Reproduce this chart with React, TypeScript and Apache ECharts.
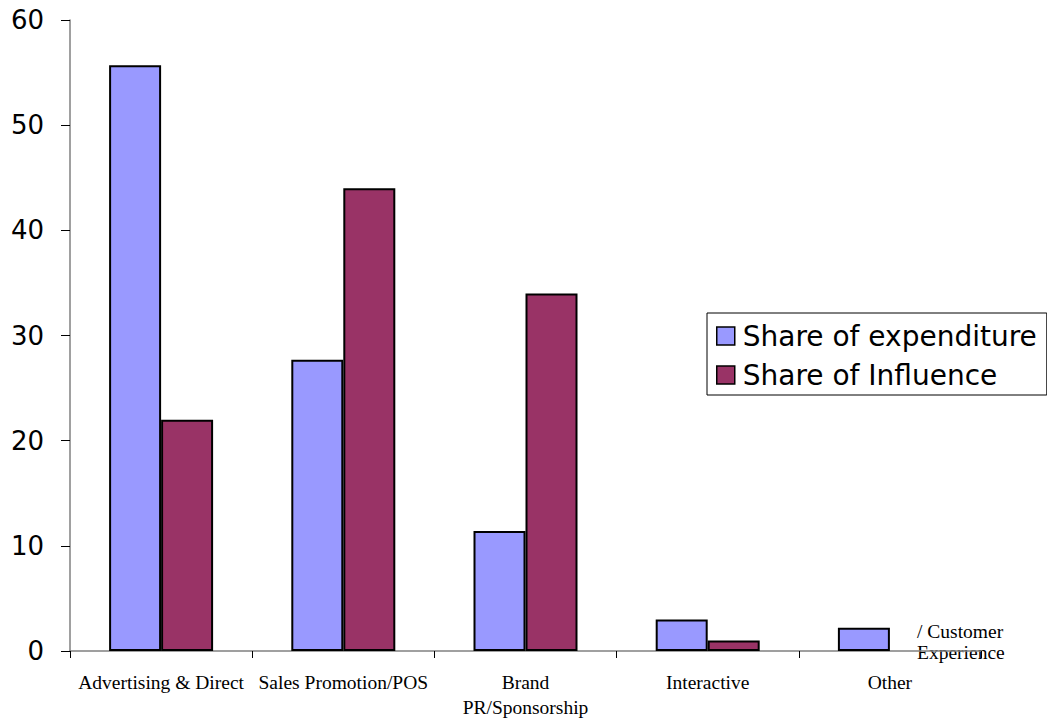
import React, { useEffect, useRef } from "react";
import * as echarts from "echarts";

const categories = [
  "Advertising & Direct",
  "Sales Promotion/POS",
  "Brand\nPR/Sponsorship",
  "Interactive",
  "Other",
];
const expenditure = [55.7, 27.7, 11.4, 3.0, 2.2];
const influence = [22.0, 44.0, 34.0, 1.0, 0];
const yTicks = { min: 0, max: 60, interval: 10 };
const overflowLabel = "/ Customer\nExperience";

export default function App() {
  const ref = useRef<HTMLDivElement>(null);
  useEffect(() => {
    if (!ref.current) return;
    const chart = echarts.init(ref.current, null, { renderer: "svg" });
    chart.setOption({
      animation: false,
      backgroundColor: "#ffffff",
      grid: { left: 70, right: 66, top: 20, bottom: 70, containLabel: false },
      legend: {
        orient: "vertical",
        left: 707,
        top: 313,
        padding: [9, 10, 6, 9],
        itemGap: 11,
        itemWidth: 18,
        itemHeight: 18,
        icon: "rect",
        borderColor: "#000",
        borderWidth: 1,
        backgroundColor: "#fff",
        itemStyle: { borderColor: "#000", borderWidth: 1.5 },
        textStyle: {
          fontFamily: "DejaVu Sans",
          fontSize: 28,
          lineHeight: 28,
          color: "#000",
          padding: [0, 0, 0, 3],
        },
        data: ["Share of expenditure", "Share of Influence"],
      },
      xAxis: {
        type: "category",
        data: categories,
        axisLine: { show: true, lineStyle: { color: "#808080", width: 1.5 } },
        axisTick: {
          show: true,
          interval: 0,
          alignWithLabel: false,
          length: 7,
          lineStyle: { color: "#000" },
        },
        axisLabel: {
          interval: 0,
          margin: 19,
          fontFamily: "Liberation Serif",
          fontSize: 19.5,
          color: "#000",
          lineHeight: 25,
        },
        splitLine: { show: false },
      },
      yAxis: {
        type: "value",
        min: yTicks.min,
        max: yTicks.max,
        interval: yTicks.interval,
        axisLine: { show: true, lineStyle: { color: "#808080", width: 1.5 } },
        axisTick: { show: true, length: 9, lineStyle: { color: "#000" } },
        axisLabel: {
          margin: 26,
          fontFamily: "DejaVu Sans",
          fontSize: 26,
          color: "#000",
        },
        splitLine: { show: false },
      },
      series: [
        {
          name: "Share of expenditure",
          type: "bar",
          data: expenditure,
          barWidth: 52,
          barGap: "0%",
          itemStyle: { color: "#9999FF", borderColor: "#000", borderWidth: 2 },
        },
        {
          name: "Share of Influence",
          type: "bar",
          data: influence.map((v) => (v === 0 ? null : v)),
          barWidth: 52,
          barGap: "0%",
          itemStyle: { color: "#993366", borderColor: "#000", borderWidth: 2 },
        },
      ],
      graphic: [
        {
          type: "text",
          left: 917,
          top: 621,
          style: {
            text: overflowLabel,
            fontFamily: "Liberation Serif",
            fontSize: 19.5,
            lineHeight: 21,
            fill: "#000",
          },
        },
      ],
    });
    return () => chart.dispose();
  }, []);
  return (
    <div
      ref={ref}
      style={{ position: "fixed", left: 0, top: 0, width: 1047, height: 721 }}
    />
  );
}
